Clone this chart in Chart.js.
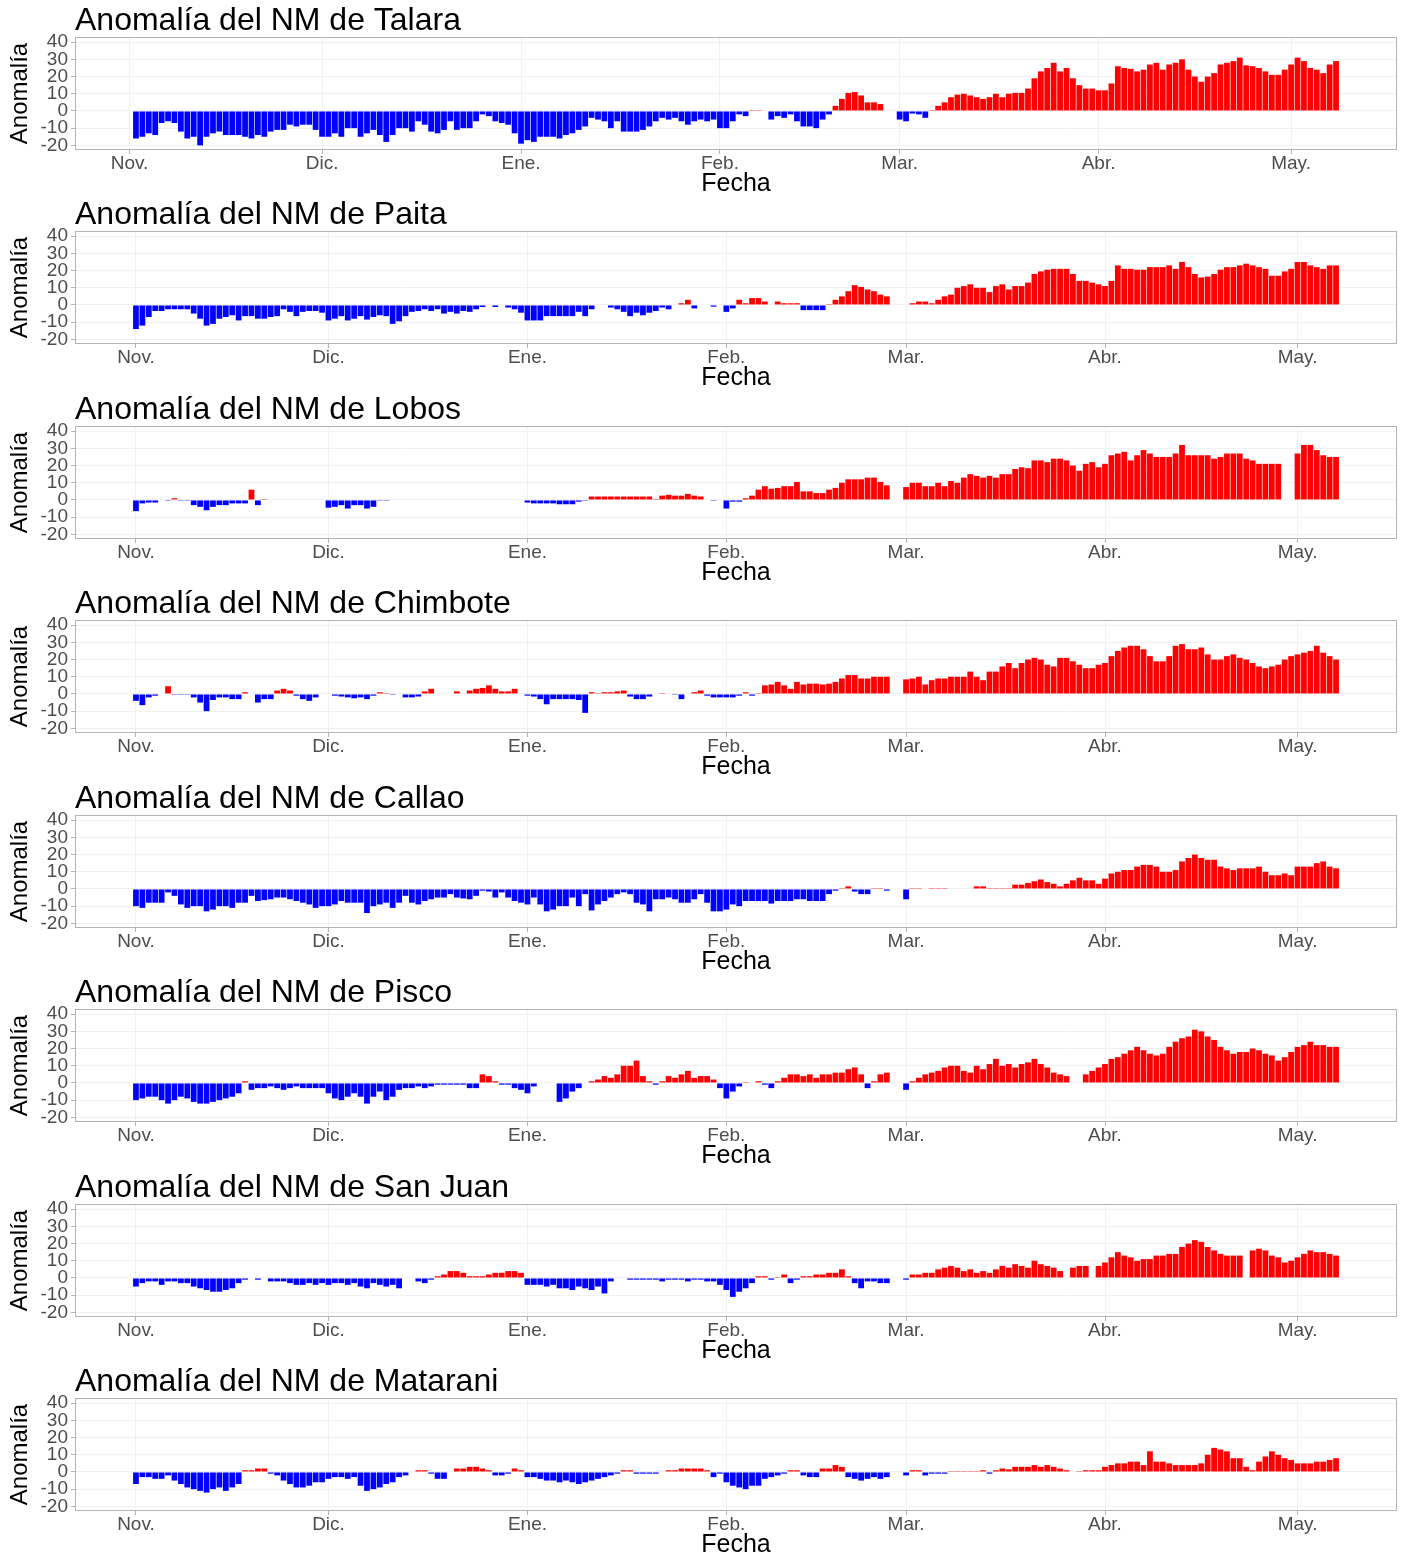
<!DOCTYPE html>
<html>
<head>
<meta charset="utf-8">
<script src="https://cdn.jsdelivr.net/npm/chart.js@4.4.1/dist/chart.umd.min.js"></script>
<style>
  body { margin: 0; background: #fff; width: 1406px; height: 1554px; overflow: hidden; }
  .panel { position: absolute; left: 0; width: 1406px; height: 194px; }
</style>
</head>
<body>
<div id="wrap"></div>
<script>
// day 0 = 1 Nov (Talara series begins on 2 Nov)
const stations = ['Talara', 'Paita', 'Lobos', 'Chimbote', 'Callao', 'Pisco', 'San Juan', 'Matarani'];
const startDay = [1, 0, 0, 0, 0, 0, 0, 0];

const talara = [
  -16,-15,-13,-14,-7,-6,-7,-12,-16,-15,
  -20,-15,-13,-12,-14,-14,-14,-15,-16,-14,
  -15,-12,-11,-11,-8,-9,-8,-8,-11,-15,
  -15,-13,-15,-10,-10,-15,-13,-11,-14,-18,
  -14,-10,-10,-12,-6,-8,-12,-13,-11,-6,
  -11,-10,-10,-6,-2,-3,-6,-7,-8,-13,
  -19,-17,-18,-15,-15,-15,-16,-14,-13,-11,
  -9,-4,-5,-6,-10,-6,-12,-12,-12,-11,
  -9,-6,-4,-5,-4,-6,-8,-6,-5,-6,
  -5,-10,-10,-6,-2,-3,0.5,0.5,null,-5,
  -3,-4,-2,-6,-9,-9,-10,-5,-2,3,
  7,10.5,11,9,5,5,4,null,null,-5,
  -6,-1.5,-2,-4,0.5,3,5,8,9.5,10,
  9,8,7,8,10,8,10,10.5,10.5,13,
  19,23,25,28,23,25,19,15,13,13,
  12,12,16,26,25,24.5,23,24,27,28,
  24,27,28,30,24,20,17,20,22,27,
  28,29,31,26.5,26,25,23,21,21,24,
  27,31,29,25,24,22,27,29
];

const paita = [
  -14,-12,-7,-3.5,-3.5,-2.5,-2.5,-2.5,-2.5,-5,
  -8,-12,-11,-8,-7,-6,-9,-6.5,-6.5,-8,
  -8,-7,-6.5,-2.5,-4,-6.5,-4,-3.5,-3.5,-4.5,
  -9,-8,-6.5,-9,-8,-6.5,-8.5,-7,-6,-6.5,
  -11,-9.5,-6.5,-4,-3.5,-2.5,-3.5,-2.5,-5,-4,
  -5,-3.5,-4,-2.5,-1.2,null,-1.2,null,-1.5,-2.5,
  -4.5,-9,-9,-9,-6.5,-6.5,-6.5,-6.5,-6.5,-4,
  -6.5,-2.5,null,null,-1.5,-2.5,-4,-6.5,-4.5,-6,
  -4.5,-3.5,-1.5,-2.5,null,1,3,-2,null,null,
  -1,null,-4,-2,3,1,4,4,2,null,
  2,1,1,1,-3,-3,-3,-3,0.5,3,
  5,8,11.5,10.5,9,8,6,5,null,null,
  null,1,2,2,1,3,5,6,10,11,
  12,10,10,7.5,11,12,9,11,11,13,
  18,19.5,20.5,21,21,21,18,14,14,13,
  12,11,14,23,21,21,20.5,20.5,22,22,
  22,23,21,25,22,18,16,16.5,18,20.5,
  22,22,23,24,23,22,21,17,17,19.5,
  21,25,25,23,22,21,23,23
];

const lobos = [
  -6.5,-2,-1.5,-1.5,null,-0.5,1,-0.5,-0.5,-3,
  -4,-6,-4,-3,-3,-2,-2,-2,6,-3,
  0.5,null,null,null,null,null,null,null,null,null,
  -4.5,-4,-3,-5,-3,-3,-5,-4,-0.5,-0.5,
  null,null,null,null,null,null,null,null,null,null,
  null,null,null,null,null,null,null,null,null,null,
  null,-1.5,-2,-2,-2,-2,-2.5,-2.5,-2.5,-1,
  -0.5,2,2,2,2,2,2,2,2,2,
  2,0.5,2.5,3,2.5,2.5,3.5,2.5,2,null,
  -0.5,null,-5,-1,-1,1,2.5,6,8,6.5,
  7,8,8,10.5,5,5,4,4,6,7,
  10,12,12,12,13,13,10.5,8.5,null,null,
  7.5,10,10,8,8,10,8,11,10,13,
  15,14,13,14,13,15,15,18,19,18.5,
  23,23,22,24,24,23,20,17,21,22,
  19,21,26,27,28,23,26,29,27,25,
  25,25,27,32,26,26,26,26,24,25,
  27,27,27,24,23,21,21,21,21,null,
  null,27,32,32,29,26,25,25
];

const chimbote = [
  -4,-6.5,-2,-1,null,4.5,-0.5,-0.5,-0.5,-2,
  -5,-10,-3.5,-2,-2,-3,-3,1,null,-5,
  -3,-3,2,3,2,-1,-3,-4,-2,null,
  null,-1,-1.5,-2,-2.5,-2,-3,-1,1,0.5,
  -0.5,null,-2,-2,-1.5,1.5,3,null,null,null,
  1.5,null,2,3,3.5,5,3,1.5,1.5,3,
  null,-1,-1.5,-3,-6,-3,-3,-3,-3,-3.5,
  -11,1,0.5,1,1,1.5,2,-1.5,-3,-3,
  -1.5,null,0.5,null,-0.5,-3,null,1,2,-1,
  -2,-2,-2,-2,-1,1,-1,0.5,5,5.5,
  7,5,3,7,5.5,6,6,5.5,6,7,
  9,11,11,9,9,10,10,10,null,null,
  8.5,9,10,5.5,8,9,9,10,10,10,
  13,10,8,13,13,16,18,15,18,20,
  21,20,17,16,21,21,19,17,15,15,
  17,18,22,25,27,28,28,26,22,19,
  19,22,28,29,26,26,27,23,20,20,
  22,23,21,20,18,16,15,16,17,20,
  22,23,24,25,28,24,22,20
];

const callao = [
  -10,-11,-8,-8,-8,-2,-4,-9,-11,-10,
  -10,-13,-12,-10,-10,-11,-8,-8,-4,-7,
  -6.5,-6,-5,-5,-6,-7,-8,-9,-11,-10,
  -10,-9,-7,-8,-8,-8,-14,-10,-9,-8,
  -11,-8,-4,-8,-9,-7,-6,-5,-5,-3,
  -5,-5.5,-6,-4,-1,-1.5,-5,-2,-5,-7,
  -8,-9,-5,-9,-13,-12,-10,-10,-5,-10,
  -3,-12.5,-9,-7,-5,-3,-2,-3,-8,-9,
  -13,-6,-6,-5,-6,-8,-8,-6,-3,-8,
  -13,-13,-12,-9,-10,-7,-7,-7,-7,-8.5,
  -7,-7,-7,-6,-6,-7,-7,-7,-3,-1,
  0.5,1.5,-1.5,-3,-3,0.5,0.5,-1,null,null,
  -6,0.5,0.5,null,0.5,0.5,0.5,null,null,null,
  null,1.5,1.5,0.5,0.5,0.5,0.5,2.5,2.5,3.5,
  4.5,5.5,4,3,1.5,3,5,6.5,5,5,
  3,6,9,10,11,11,13,14,14,13,
  10,10,11,16,18,20,18,17,17,13,
  12,11,12,12,12,13,10,8,8,9,
  8,13,13,13,15,16,13,12
];

const pisco = [
  -10,-9,-8,-8,-10,-12,-10,-8,-9,-11,
  -12,-12,-11,-10,-9,-8,-6,1,-4,-3,
  -3,-2,-3,-4,-3,-2,-3,-3,-3,-3,
  -6,-9,-10,-8,-6,-8,-12,-8,-5,-10,
  -8,-4,-3,-3,-2,-3,-2,-1,-1,-1,
  -1,-1,-3,-3,5,4,1,-1,-1,-3,
  -4,-6,-2,null,null,null,-11,-9,-5,-3,
  null,1,2,4,3,5,10,10,13,4,
  1,-1,1,4,3,5,7,3,4,4,
  2,-3,-9,-5,-2,0.5,null,1,-1,-3,
  1,3,5,5,4,5,3,5,5,6,
  6,8,9,5,-3,1,5,6,null,null,
  -4,1,3,5,6,7,9,10,10,7,
  6,10,8,11,14,10,11,9,11,12,
  14,11,9,6,5,4,null,null,5,7,
  9,11,14,15,17,19,21,19,17,16,
  17,21,24,26,27,31,30,27,25,21,
  19,17,18,18,20,19,17,16,13,15,
  18,21,22,24,22,22,21,21
];

const sanJuan = [
  -5,-3,-2,-2,-4,-2,-2,-3,-3,-5,
  -6,-7,-8,-8,-7,-6,-3,-1,null,-1,
  null,-2,-2,-2,-3,-4,-4,-3,-4,-3,
  -4,-3,-3,-4,-3,-5,-6,-3,-4,-5,
  -4,-6,null,null,-2,-3,-1,1,2,4,
  4,3,1,1,1,2,3,3,4,4,
  3,-4,-4,-4,-5,-4,-6,-6,-7,-5,
  -6,-7,-5,-9,-2,null,null,-1,-1,-1,
  -1,-1,-2,-1,-1,-1,-2,-1,-1,-2,
  -2,-4,-7,-11,-8,-6,-3,1,1,-1,
  0.5,2,-3,-1,1,1,2,2,3,3,
  5,1,-3,-6,-2,-2,-3,-3,null,null,
  -1,2,2,3,3,5,6,7,6,4,
  5,3,4,3,5,7,6,8,7,6,
  10,8,7,6,4,null,6,7,7,null,
  7,9,12,15,13,12,10,11,11,13,
  13,14,14,18,20,22,21,18,16,14,
  13,13,13,null,16,17,16,13,12,9,
  10,12,14,16,15,15,14,13
];

const matarani = [
  -7,-3,-3,-4,-4,-2,-5,-7,-9,-10,
  -11,-12,-10,-9,-11,-9,-7,1,1,2,
  2,-1,-2,-5,-7,-9,-9,-8,-6,-6,
  -4,-3,-3,-4,-3,-8,-11,-10,-9,-7,
  -6,-3,-2,null,1,1,-1,-4,-4,null,
  2,2,3,3,2,1,-2,-2,-1,2,
  1,-3,-3,-4,-5,-5,-6,-5,-6,-7,
  -6,-5,-4,-3,-2,-1,1,1,-1,-1,
  -1,-1,null,1,1,2,2,2,2,1,
  -3,-1,-6,-8,-9,-10,-8,-8,-4,-3,
  -2,-1,1,1,-2,-3,-3,2,2,4,
  3,-3,-4,-5,-4,-3,-4,-3,null,null,
  -2,1,1,-2,-1,-1,-1,0.5,0.5,0.5,
  0.5,0.5,1,-1,1,2,1.5,3,3,3,
  4,3,4,3,2,1,null,0.5,1,1,
  1,3,4,5,5,6,6,4,12,6,
  6,5,4,4,4,4,5,10,14,13,
  12,8,8,3,1,6,9,12,10,8,
  7,5,5,5,6,6,7,8
];

const seriesList = [talara, paita, lobos, chimbote, callao, pisco, sanJuan, matarani];

// x axis: one slot per day, 206 slots
const slotsBefore = 9;
const slotCount = 206;
const monthNames = ['Nov.', 'Dic.', 'Ene.', 'Feb.', 'Mar.', 'Abr.', 'May.'];
const monthStart = [0, 30, 61, 92, 120, 151, 181];

const yTicks = [-20, -10, 0, 10, 20, 30, 40];

Chart.defaults.font.family = '"Liberation Sans", Arial, sans-serif';

const panelFrame = {
  id: 'panelFrame',
  afterDraw(chart, args, opts) {
    const { ctx, chartArea: a } = chart;
    ctx.save();
    ctx.strokeStyle = '#b3b3b3';
    ctx.lineWidth = 1;
    ctx.strokeRect(Math.round(a.left) + 0.5, Math.round(a.top) + 0.5,
                   Math.round(a.right - a.left) - 1, Math.round(a.bottom - a.top) - 1);
    ctx.fillStyle = '#000';
    ctx.font = '32px "Liberation Sans", Arial, sans-serif';
    ctx.textAlign = 'left';
    ctx.textBaseline = 'alphabetic';
    ctx.fillText(opts.text, a.left, a.top - 7);
    ctx.restore();
  }
};

const wrap = document.getElementById('wrap');

stations.forEach((name, k) => {
  const div = document.createElement('div');
  div.className = 'panel';
  div.style.top = Math.round(194.43 * k) + 'px';
  const canvas = document.createElement('canvas');
  div.appendChild(canvas);
  wrap.appendChild(div);

  // day number of each slot on this panel's axis
  const first = -slotsBefore + startDay[k];
  const days = [];
  for (let i = 0; i < slotCount; i++) days.push(first + i);

  const values = seriesList[k];
  const s = startDay[k];
  const data = days.map(d => (d >= s && d - s < values.length) ? values[d - s] : null);

  new Chart(canvas, {
    type: 'bar',
    data: {
      labels: days,
      datasets: [{
        data: data,
        backgroundColor: c => (c.raw !== null && c.raw < 0) ? '#0000ff' : '#ff0000',
        borderWidth: 0,
        barPercentage: 0.9,
        categoryPercentage: 1
      }]
    },
    options: {
      responsive: true,
      maintainAspectRatio: false,
      animation: false,
      layout: { padding: { top: 37, right: 9, bottom: 0, left: 0 } },
      plugins: {
        legend: { display: false },
        tooltip: { enabled: false },
        panelFrame: { text: 'Anomalía del NM de ' + name }
      },
      scales: {
        x: {
          type: 'category',
          afterFit(scale) { scale.height = scale.chart.height - 150; },
          ticks: {
            autoSkip: false,
            maxRotation: 0,
            minRotation: 0,
            padding: -2,
            color: '#4d4d4d',
            font: { size: 19 },
            callback(v, i) {
              const m = monthStart.indexOf(days[i]);
              return m >= 0 ? monthNames[m] : null;
            }
          },
          grid: { color: '#f1f1f1', tickColor: '#b3b3b3', tickLength: 4, offset: false },
          border: { display: false },
          title: { display: true, text: 'Fecha', color: '#000', font: { size: 25, lineHeight: 1 }, padding: { top: 0, bottom: -3 } }
        },
        y: {
          min: -22.7,
          max: 43,
          afterFit(scale) { scale.width = 75; },
          afterBuildTicks(scale) { scale.ticks = yTicks.map(v => ({ value: v })); },
          ticks: { autoSkip: false, padding: 3, color: '#4d4d4d', font: { size: 19 } },
          grid: { color: '#f1f1f1', tickColor: '#b3b3b3', tickLength: 4 },
          border: { display: false },
          title: { display: true, text: 'Anomalía', color: '#000', font: { size: 24, lineHeight: 1 }, padding: { top: 8, bottom: 0 } }
        }
      }
    },
    plugins: [panelFrame]
  });
});
</script>
</body>
</html>
